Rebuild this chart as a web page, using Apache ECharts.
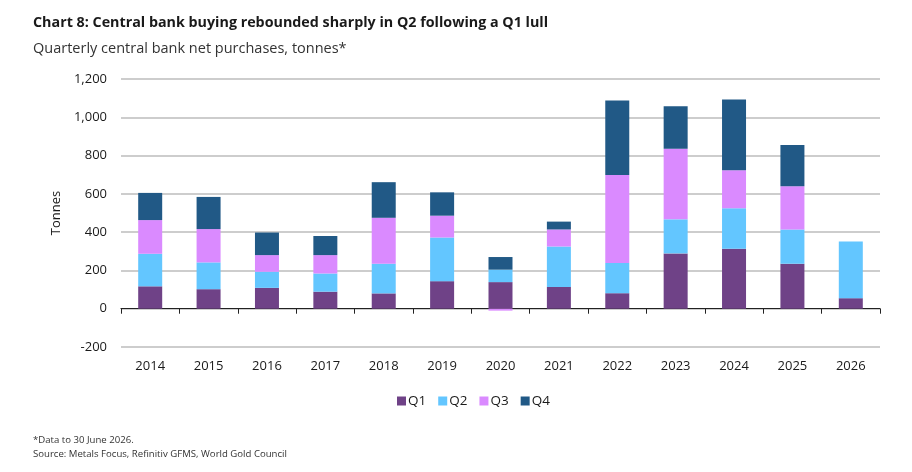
<!DOCTYPE html>
<html>
<head>
<meta charset="utf-8">
<script src="https://cdn.jsdelivr.net/npm/echarts@6/dist/echarts.min.js"></script>
<style>
  html, body { margin: 0; padding: 0; background: #fff; }
  #chart { width: 912px; height: 472px; }
</style>
</head>
<body>
<div id="chart"></div>
<script>
// values (tonnes)
var years = ['2014', '2015', '2016', '2017', '2018', '2019', '2020', '2021', '2022', '2023', '2024', '2025', '2026'];
var q1 = [117, 102, 109, 89, 80, 144, 139, 114, 81, 289, 313, 235, 55];
var q2 = [170, 140, 84, 95, 155, 228, 65, 211, 158, 178, 212, 179, 296];
var q3 = [176, 174, 87, 96, 240, 114, -10, 89, 459, 368, 198, 226, null];
var q4 = [142, 168, 118, 100, 186, 122, 66, 41, 390, 223, 370, 215, null];
var yTicks = { min: -200, max: 1200, step: 200 };

var colors = { Q1: '#6f4287', Q2: '#63c6ff', Q3: '#da8aff', Q4: '#215986' };
var font = '"Open Sans", "Noto Sans", sans-serif';

var chart = echarts.init(document.getElementById('chart'));

function barSeries(name, data) {
  return {
    name: name,
    type: 'bar',
    stack: 'total',
    barWidth: 24,
    itemStyle: { color: colors[name] },
    data: data
  };
}

var option = {
  animation: false,
  textStyle: { fontFamily: font },
  title: [
    {
      text: 'Chart 8: Central bank buying rebounded sharply in Q2 following a Q1 lull',
      left: 28, top: 11,
      textStyle: { fontSize: 14.3, fontWeight: 'bold', color: '#1a1a1a', fontFamily: font }
    },
    {
      text: 'Quarterly central bank net purchases, tonnes*',
      left: 28, top: 36,
      textStyle: { fontSize: 14.5, fontWeight: 'normal', color: '#333', fontFamily: font }
    },
    {
      text: '*Data to 30 June 2026.\nSource: Metals Focus, Refinitiv GFMS, World Gold Council',
      left: 28, top: 428,
      textStyle: { fontSize: 9.6, fontWeight: 'normal', color: '#333', lineHeight: 14, fontFamily: font }
    }
  ],
  legend: {
    left: 392, top: 389,
    itemWidth: 9, itemHeight: 9, itemGap: 12,
    icon: 'rect',
    textStyle: { fontSize: 13.5, color: '#1a1a1a', padding: [0, 0, 0, -3] },
    data: ['Q1', 'Q2', 'Q3', 'Q4']
  },
  grid: { left: 121, right: 32, top: 79, bottom: 125 },
  xAxis: [
    {
      type: 'category',
      data: years,
      axisLine: { onZero: true, lineStyle: { color: '#222', width: 1.2 } },
      axisTick: { show: true, length: 5, lineStyle: { color: '#222' } },
      axisLabel: { show: false }
    },
    {
      type: 'category',
      data: years,
      position: 'bottom',
      axisLine: { show: false },
      axisTick: { show: false },
      axisLabel: { margin: 13, fontSize: 13, color: '#1a1a1a' }
    }
  ],
  yAxis: {
    type: 'value',
    min: yTicks.min, max: yTicks.max, interval: yTicks.step,
    name: 'Tonnes',
    nameLocation: 'middle',
    nameGap: 53,
    nameTextStyle: { fontSize: 13, color: '#1a1a1a' },
    axisLine: { show: false },
    axisTick: { show: false },
    axisLabel: {
      fontSize: 13, color: '#1a1a1a', margin: 14,
      formatter: function (v) { return v.toLocaleString('en-US'); }
    },
    splitLine: { lineStyle: { color: '#bdbdbd', width: 1.5 } }
  },
  series: [
    barSeries('Q1', q1),
    barSeries('Q2', q2),
    barSeries('Q3', q3),
    barSeries('Q4', q4)
  ]
};

chart.setOption(option);
</script>
</body>
</html>
